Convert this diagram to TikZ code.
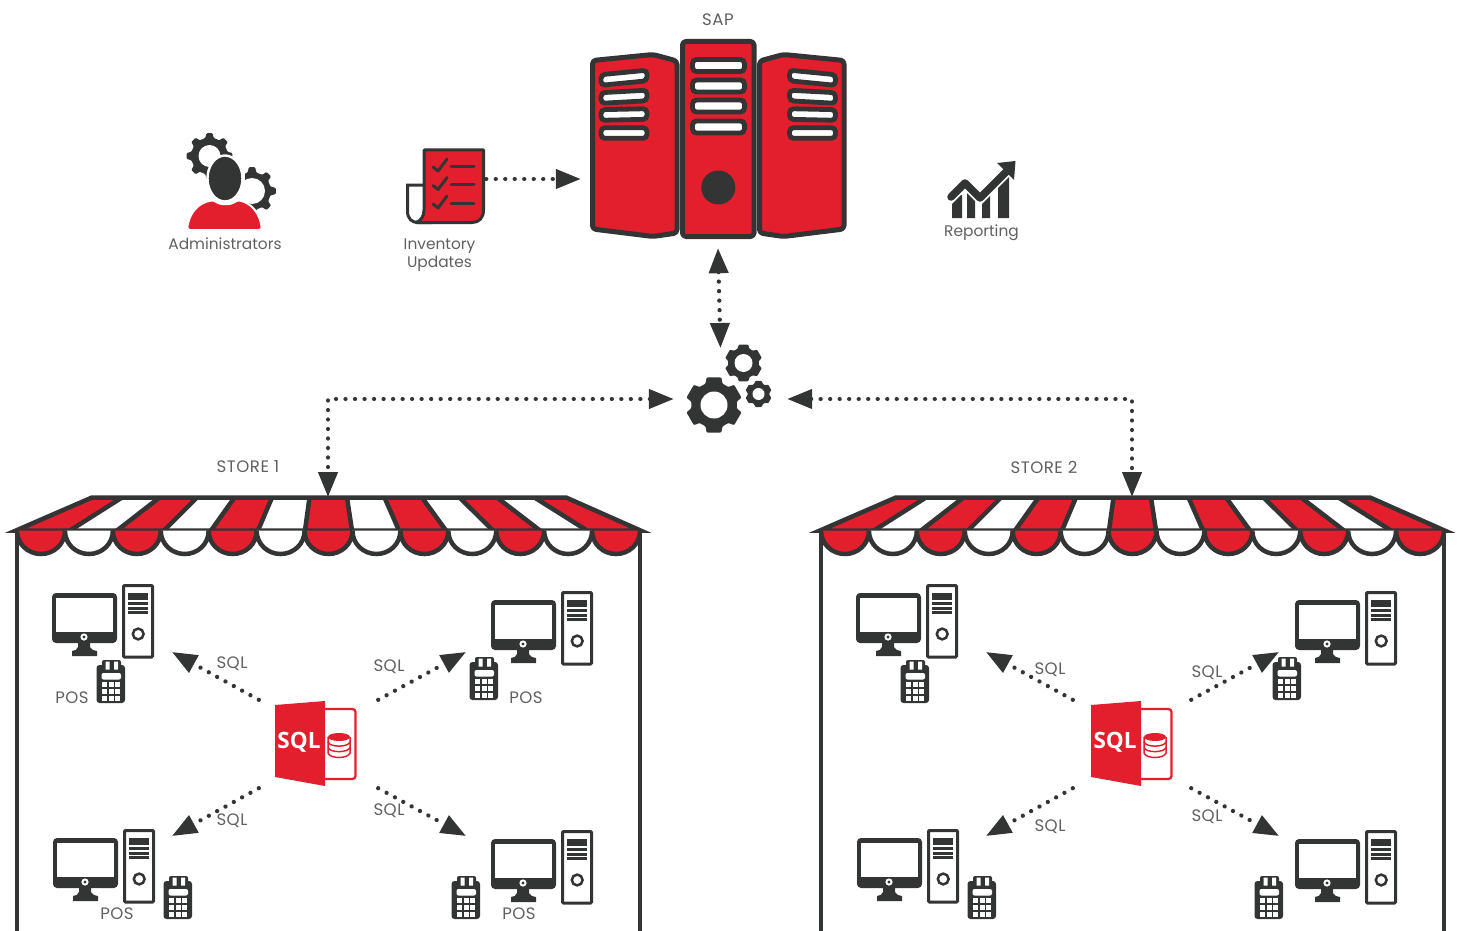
\documentclass[tikz,border=0pt]{standalone}
\usepackage{fontspec}
\setmainfont{Poppins}
\newfontfamily\sqlfont{Open Sans}
\newfontfamily\capsfont[LetterSpace=3]{Poppins}
\usetikzlibrary{arrows.meta}
\definecolor{dk}{HTML}{333535}
\definecolor{rd}{HTML}{E31E2D}
\definecolor{txt}{HTML}{5F6060}
\tikzset{
  lab/.style={font=\fontsize{15.4}{18}\selectfont, text=txt, inner sep=0pt, align=center},
  caps/.style={font=\capsfont\fontsize{16.6}{18}\selectfont, text=txt, inner sep=0pt, align=center},
  anchorbox/.style={inner sep=0pt, minimum width=#1, draw=none},
  flow/.style={dk, line width=4.3pt, line cap=round, dash pattern=on 0.01pt off 9.5pt},
  bigtip/.tip={Triangle[length=25pt,width=19pt]},
  slot/.style={fill=white, draw=dk, line width=4.8pt, rounded corners=4pt},
  cabinet/.style={fill=rd, draw=dk, line width=5pt, rounded corners=3.5pt, line join=round},
  pics/awning/.style={code={
    \draw[dk, line width=4.5pt] (17,530) -- (17,935) (640,530) -- (640,935);
    \begin{scope}
      \clip (92,497.5) -- (566,497.5) -- (640.5,530.5) -- (16,530.5) -- cycle;
      \fill[white] (0,490) rectangle (660,535);
      \fill[rd] (80,497.5) -- (122,497.5) -- (70,530.5) -- (0,530.5) -- cycle;
      \fill[rd] (534.5,497.5) -- (580,497.5) -- (660,530.5) -- (587,530.5) -- cycle;
      \foreach \j in {2,4,...,10}{
        \fill[rd] ({84.5+37.5*\j},497.5) -- ({84.5+37.5*(\j+1)},497.5) -- ({23+47*(\j+1)},530.5) -- ({23+47*\j},530.5) -- cycle;
      }
      \foreach \j in {1,...,12}{
        \draw[dk, line width=4.5pt] ({84.5+37.5*\j},497.5) -- ({23+47*\j},530.5);
      }
    \end{scope}
    \draw[dk, line width=4.5pt] (92,497.5) -- (566,497.5) -- (640.5,530.5) -- (16,530.5) -- cycle;
    \foreach \j in {0,...,12}{
      \pgfmathsetmacro\cc{41+47.92*\j}
      \pgfmathtruncatemacro\odd{mod(\j,2)}
      \ifnum\odd=0 \def\scol{rd}\else \def\scol{white}\fi
      \draw[dk, fill=\scol, line width=4.5pt] (\cc-24,530.5) .. controls (\cc-24,544) and (\cc-13,554) .. (\cc,554) .. controls (\cc+13,554) and (\cc+24,544) .. (\cc+24,530.5);
    }
  }},
  pics/workstation/.style={code={
    \fill[dk, rounded corners=4pt] (0,0) rectangle (65,50);
    \fill[white] (4,5) rectangle (61,39);
    \fill[white] (32,44) circle[radius=3.6];
    \fill[dk] (32,44) circle[radius=1.7];
    \fill[dk] (26,50) -- (38,50) -- (38,54) .. controls (39,57) and (42,57.5) .. (45,58) -- (45,63) -- (20,63) -- (20,58) .. controls (23,57.5) and (25,57) .. (26,54) -- cycle;
    \draw[dk, fill=white, line width=3pt, rounded corners=1pt] (71.5,-7.5) rectangle (100.5,64);
    \fill[dk] (76,0) rectangle (96,6.5);
    \draw[dk, line width=3pt] (76,10.8) -- (96,10.8) (76,15.3) -- (96,15.3) (76,19.8) -- (96,19.8);
    \draw[dk, line width=2.5pt] (86.2,41) circle[radius=5.4];
  }},
  pics/posterm/.style={code={
    \fill[dk, rounded corners=3pt] (-0.5,5) rectangle (28,43);
    \fill[dk, rounded corners=2pt] (5,0) rectangle (24,8);
    \fill[white] (8.5,1.5) rectangle (12.5,9.5) (17,1.5) rectangle (21,9.5);
    \fill[white, rounded corners=2pt] (4.5,13) rectangle (24,19.5);
    \foreach \cx in {7,14,20.7}{
      \foreach \ry in {24.3,31,38}{
        \fill[white] (\cx-2.5,\ry-2.5) rectangle (\cx+2.5,\ry+2.5);
      }
    }
  }},
  pics/sqlicon/.style={code={
    \draw[rd, line width=2.2pt, rounded corners=3pt] (322,709) -- (355.5,709) -- (355.5,779) -- (322,779);
    \fill[rd] (275,705) -- (325,701) -- (325,786) -- (275,777) -- cycle;
    \node[text=white, inner sep=0pt, font=\sqlfont\bfseries\fontsize{22.5}{24}\selectfont] at (299,742) {SQL};
    \fill[rd] (339,737) ellipse[x radius=11, y radius=4];
    \draw[rd, line width=1.5pt] (328,737) -- (328,753) .. controls (330,759) and (348,759) .. (350,753) -- (350,737);
    \draw[rd, line width=1.5pt] (328,742) .. controls (330,747.5) and (348,747.5) .. (350,742);
    \draw[rd, line width=1.5pt] (328,747.5) .. controls (330,753) and (348,753) .. (350,747.5);
  }}
}
\newcommand\gearshape[7]{%
  \begin{scope}[shift={(#1,#2)}]
    \pgfmathsetmacro\gstep{360/#5}
    \fill[dk, rounded corners=1pt] (90-#7*\gstep:#4) -- (90-#6*\gstep:#3) -- (90+#6*\gstep:#3) -- (90+#7*\gstep:#4)
      \foreach \i in {1,...,#5}{ -- (90+\i*\gstep-#7*\gstep:#4) -- (90+\i*\gstep-#6*\gstep:#3) -- (90+\i*\gstep+#6*\gstep:#3) -- (90+\i*\gstep+#7*\gstep:#4) } -- cycle;
  \end{scope}%
}
\begin{document}
\begin{tikzpicture}[x=1pt,y=-1pt]
\useasboundingbox (0,0) rectangle (1459,931);

% Administrators icon
\begin{scope}
  \clip (180,125) rectangle (240,185);
  \gearshape{209.5}{156}{23}{18.5}{8}{0.17}{0.29}
  \fill[white] (209.5,156) circle[radius=11];
\end{scope}
\begin{scope}
  \clip (245,160) rectangle (285,225);
  \gearshape{252}{191}{24}{19}{8}{0.17}{0.29}
  \fill[white] (252,191) circle[radius=13];
\end{scope}
\fill[rd, draw=white, line width=2pt, rounded corners=3pt] (187,230) .. controls (189,214) and (197,203) .. (214,200) .. controls (220,205) and (231,205) .. (237,200) .. controls (252,203) and (260,214) .. (262,230) -- cycle;
\fill[dk, draw=white, line width=2.4pt] (225,178.5) ellipse[x radius=17.5, y radius=23];
\node[lab] (admin) at (225,243.5) {Administrators};

% Inventory icon
\draw[dk, fill=white, line width=3pt] (425,185) -- (407.5,185) -- (407.5,211) .. controls (407.5,219) and (412,222.5) .. (418,222.5) -- (430,222.5) -- cycle;
\draw[dk, fill=rd, line width=3pt, line join=round] (424,150) -- (483.5,150) -- (483.5,210) .. controls (483.5,218) and (479,222.5) .. (472,222.5) -- (416,222.5) .. controls (421,221) and (424,216) .. (424,210) -- cycle;
\foreach \yy [count=\n] in {166,184.5,203}{
  \draw[dk, line width=3pt, line cap=round, line join=round] (433,\yy+1) -- (438,\yy+5) -- (447,\yy-7);
  \draw[dk, line width=3pt, line cap=round] (451,\yy) -- (474,\yy);
}
\node[lab] (inventory) at (439.5,255) {Inventory\\[0pt]Updates};
\node[anchorbox=80pt, minimum height=60pt] (invbox) at (446,179) {};

% SAP servers
\draw[cabinet] (592.5,60.5) -- (653,54.5) -- (677,61) -- (677,233) -- (653,236.5) -- (592.5,229) -- cycle;
\foreach \a/\b in {80/75.5, 98/95.5, 115/114, 133/133}{
  \draw[slot] (601,\a-5.3) -- (647,\b-5.3) -- (647,\b+5.3) -- (601,\a+5.3) -- cycle;
}
\draw[cabinet] (844,60.5) -- (783.5,54.5) -- (759.5,61) -- (759.5,233) -- (783.5,236.5) -- (844,229) -- cycle;
\foreach \a/\b in {80/75.5, 98/95.5, 115/114, 133/133}{
  \draw[slot] (835.5,\a-5.3) -- (789.5,\b-5.3) -- (789.5,\b+5.3) -- (835.5,\a+5.3) -- cycle;
}
\draw[cabinet] (682.5,41.5) rectangle (754,236.5);
\foreach \yy in {65.5,86,106,127}{
  \draw[slot] (692.5,\yy-6) rectangle (744.5,\yy+6);
}
\fill[dk] (718.3,187.5) circle[radius=17];
\node[caps] (sap) at (718,20) {SAP};
\node[anchorbox=274pt, minimum height=218pt] (sapbox) at (718,139) {};
\node[anchorbox=4pt, minimum height=150pt] (sapleft) at (583,179) {};

% Reporting icon
\fill[dk] (952,218) rectangle (962,195) (967,218) rectangle (975,190) (982,218) rectangle (990,190) (998,218) rectangle (1009,172);
\draw[white, line width=11pt, line join=miter] (948,200) -- (965,183) -- (980,198) -- (1010,168);
\draw[dk, line width=7.5pt, line join=round, line cap=round] (951,197) -- (965,183) -- (980,198) -- (1008,170);
\fill[dk] (997,163) -- (1015.5,161) -- (1014,180) -- cycle;
\node[lab] (reporting) at (981.5,233) {Reporting};

% Hub gears
\gearshape{714}{405}{28.5}{23}{6}{0.25}{0.36}
\fill[white] (714,405) circle[radius=13.5];
\gearshape{743.5}{363}{19}{15.5}{6}{0.25}{0.36}
\fill[white] (743.5,363) circle[radius=9];
\gearshape{758.5}{394}{13.5}{11}{6}{0.25}{0.36}
\fill[white] (758.5,394) circle[radius=6];
\node[anchorbox=113pt, minimum height=102pt] (hub) at (730.5,399) {};
\coordinate (hubtop) at (720.5,348);

% Stores
\pic at (0,0) {awning};
\pic at (804,0) {awning};
\node[caps] (store1) at (248,467) {STORE 1};
\node[caps] (store2) at (1044,467) {STORE 2};
\coordinate (store1top) at (328,497);
\coordinate (store2top) at (1132,497);

% Store 1 equipment
\pic at (52,593) {workstation};
\pic at (491,600) {workstation};
\pic at (53,838) {workstation};
\pic at (491,839) {workstation};
\pic at (97,660) {posterm};
\pic at (470,657) {posterm};
\pic at (164,876) {posterm};
\pic at (452,876) {posterm};
\pic at (0,0) {sqlicon};
\node[anchorbox=119pt, minimum height=88pt] (sql1) at (318.5,744) {};
\coordinate (w1a) at (172,652);
\coordinate (w1b) at (466,652);
\coordinate (w1c) at (172,836);
\coordinate (w1d) at (466,836);

% Store 2 equipment
\pic at (856,593) {workstation};
\pic at (1295,600) {workstation};
\pic at (857,838) {workstation};
\pic at (1295,839) {workstation};
\pic at (901,660) {posterm};
\pic at (1273,657) {posterm};
\pic at (968,876) {posterm};
\pic at (1255,876) {posterm};
\pic at (816,0) {sqlicon};
\node[anchorbox=118pt, minimum height=88pt] (sql2) at (1132,744) {};
\coordinate (w2a) at (986,652);
\coordinate (w2b) at (1279,652);
\coordinate (w2c) at (986,836);
\coordinate (w2d) at (1279,836);

% Connectors
\draw[flow, -{bigtip}] (invbox.east) -- (sapleft.west);
\draw[flow, {bigtip}-{bigtip}] (sapbox.south) -- (hubtop);
\draw[flow, {bigtip}-{bigtip}] (hub.west) -| (store1top);
\draw[flow, {bigtip}-{bigtip}] (hub.east) -| (store2top);
\draw[flow, -{bigtip}] (sql1.north west) -- (w1a);
\draw[flow, -{bigtip}] (sql1.north east) -- (w1b);
\draw[flow, -{bigtip}] (sql1.south west) -- (w1c);
\draw[flow, -{bigtip}] (sql1.south east) -- (w1d);
\draw[flow, -{bigtip}] (sql2.north west) -- (w2a);
\draw[flow, -{bigtip}] (sql2.north east) -- (w2b);
\draw[flow, -{bigtip}] (sql2.south west) -- (w2c);
\draw[flow, -{bigtip}] (sql2.south east) -- (w2d);

% Labels on connectors and devices
\node[caps] (s1a) at (232,663.5) {SQL};
\node[caps] (s1b) at (389,666.5) {SQL};
\node[caps] (s1c) at (232,820.5) {SQL};
\node[caps] (s1d) at (389,810.5) {SQL};
\node[caps] (s2a) at (1050,669.5) {SQL};
\node[caps] (s2b) at (1207,672.5) {SQL};
\node[caps] (s2c) at (1050,826.5) {SQL};
\node[caps] (s2d) at (1207,816.5) {SQL};
\node[caps] (p1) at (72,697.5) {POS};
\node[caps] (p2) at (526,697.5) {POS};
\node[caps] (p3) at (117,913.5) {POS};
\node[caps] (p4) at (519,913.5) {POS};
\end{tikzpicture}
\end{document}
